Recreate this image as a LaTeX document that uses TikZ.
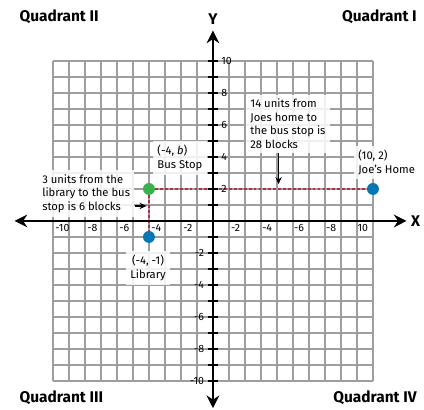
\documentclass[tikz,border=0pt]{standalone}
\usepackage{fontspec}
\setmainfont{Fira Sans}
\usetikzlibrary{positioning,arrows.meta}
\definecolor{gridgray}{RGB}{158,158,158}
\definecolor{routered}{RGB}{176,46,74}
\definecolor{stopgreen}{RGB}{58,178,76}
\definecolor{placeblue}{RGB}{8,118,178}
\tikzset{
  axis/.style={line width=1.9pt, draw=black,
    {Stealth[length=9pt,width=9pt]}-{Stealth[length=9pt,width=9pt]}},
  ytick/.style={line width=1.4pt, draw=black},
  route/.style={draw=routered, line width=1.7pt, dash pattern=on 2pt off 1.5pt},
  spot/.style={circle, inner sep=0pt, minimum size=8.5pt},
  note/.style={fill=white, fill opacity=0.85, text opacity=1, align=left,
    inner sep=3pt, font=\fontsize{8}{9.6}\selectfont},
  pointer/.style={line width=1pt, -{Stealth[length=5pt,width=4.5pt]}},
  quad/.style={inner sep=0pt, font=\fontsize{11}{13}\selectfont\bfseries},
  axislabel/.style={inner sep=0pt, font=\fontsize{11}{13}\selectfont\bfseries},
  num/.style={inner sep=1pt, font=\fontsize{7.5}{8.5}\selectfont}
}
\begin{document}
\begin{tikzpicture}[x=0.4cm, y=0.4cm]
    \useasboundingbox (-13.31,-11.81) rectangle (13.19,13.81);
    \draw[gridgray, line width=1pt, step=0.4cm] (-10,-10) grid (10,10);

    \coordinate (xstart) at (-12.4,0);
    \coordinate (xend) at (12.1,0);
    \coordinate (ystart) at (0,-11.7);
    \coordinate (yend) at (0,11.9);

    \node[spot, fill=stopgreen] (busstop) at (-4,2) {};
    \node[spot, fill=placeblue] (home) at (10,2) {};
    \node[spot, fill=placeblue] (library) at (-4,-1) {};
    \draw[route] (busstop) -- (home);
    \draw[route] (busstop) -- (library);

    \draw[axis] (xstart) -- (xend);
    \draw[axis] (ystart) -- (yend);
    \node[axislabel, right=3pt of xend] (xlab) {X};
    \node[axislabel, above=4pt of yend] (ylab) {Y};

    \foreach \y in {-10,...,-1,1,2,...,10}
      \draw[ytick] (-0.32,\y) -- (0.32,\y);
    \foreach \y in {2,4,...,10}
      \node[num, anchor=west] at (0.42,\y) {\y};
    \foreach \y in {-2,-4,...,-10}
      \node[num, anchor=east] at (-0.45,\y) {\y};
    \foreach \x in {-2,-4,...,-10}
      \node[num, anchor=west] at (\x+0.05,-0.45) {\x};
    \foreach \x/\lab in {2/-2,4/-4,6/-6,8/-8,10/10}
      \node[num, anchor=east] at (\x-0.2,-0.45) {\lab};

    \node[note, anchor=north west] (busnote) at (-3.75,5.0) {(-4, \textit{b})\\Bus Stop};
    \node[note, anchor=north west] (homenote) at (8.8,4.7) {(10, 2)\\Joe’s Home};
    \node[note, align=center] (libnote) at (-4.06,-2.94) {(-4, -1)\\Library};
    \node[note, anchor=north west] (blocks6) at (-10.95,3.2)
      {3 units from the\\library to the bus\\stop is 6 blocks};
    \node[note, anchor=north west] (blocks28) at (2.06,7.9)
      {14 units from\\Joes home to\\the bus stop is\\28 blocks};

    \coordinate (stoptip) at (-4.15,0.94);
    \coordinate (routetip) at (4.1,2.3);
    \draw[pointer] (blocks6.east |- stoptip) -- (stoptip);
    \draw[pointer] (blocks28.south -| routetip) -- (routetip);

    \node[quad, anchor=west] (q2) at (-12.1,12.75) {Quadrant II};
    \node[quad, anchor=east] (q1) at (12.75,12.75) {Quadrant I};
    \node[quad, anchor=west] (q3) at (-12.1,-11.06) {Quadrant III};
    \node[quad, anchor=east] (q4) at (12.75,-11.06) {Quadrant IV};
  \end{tikzpicture}
\end{document}
